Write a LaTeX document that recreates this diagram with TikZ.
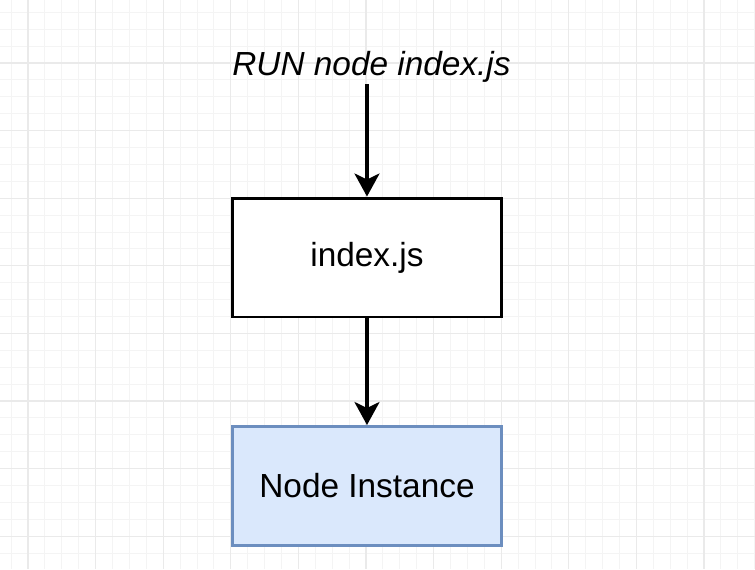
\documentclass[tikz,border=0pt]{standalone}
\usepackage{fontspec}
\setmainfont{Liberation Sans}
\usetikzlibrary{arrows.meta}

\definecolor{gridmajor}{HTML}{EAEAEA}
\definecolor{gridminor}{HTML}{F4F4F4}
\definecolor{instfill}{HTML}{DAE8FC}
\definecolor{instdraw}{HTML}{6C8EBF}

\tikzset{
  flowbox/.style={draw=black, line width=1.7pt, fill=white, minimum width=5.4cm,
    minimum height=2.38cm, inner sep=0pt, font=\fontsize{19}{23}\selectfont},
  instbox/.style={flowbox, draw=instdraw, fill=instfill},
  flowarrow/.style={line width=1.9pt, -{Stealth[length=0.46cm, width=0.5cm, inset=0.12cm]}}
}

\begin{document}
\begin{tikzpicture}[x=0.02cm, y=-0.02cm]
  % Parameters
  \def\W{755}
  \def\H{569}
  \def\gx{28}
  \def\gy{63}
  \def\g{16.9}

  % Background and frame
  \fill[white] (0,0) rectangle (\W,\H);
  \useasboundingbox (0,0) rectangle (\W,\H);

  % Grid (minor lines, then major lines)
  \foreach \j in {0,...,44} {
    \draw[gridminor, line width=0.5pt] ({\gx-\g+\g*\j},0) -- ({\gx-\g+\g*\j},\H);
  }
  \foreach \j in {0,...,33} {
    \draw[gridminor, line width=0.5pt] (0,{\gy-3*\g+\g*\j}) -- (\W,{\gy-3*\g+\g*\j});
  }
  \foreach \k in {0,...,10} {
    \draw[gridmajor, line width=0.6pt] ({\gx+4*\g*\k},0) -- ({\gx+4*\g*\k},\H);
  }
  \foreach \k in {-1,...,7} {
    \draw[gridmajor, line width=0.6pt] (0,{\gy+4*\g*\k}) -- (\W,{\gy+4*\g*\k});
  }

  % Command and boxes
  \node[anchor=base, inner sep=1pt, font=\fontsize{19}{23}\selectfont\itshape] (cmd) at (371.5,75) {RUN node index.js};
  \node[flowbox] (script) at (367,257.5) {index.js};
  \node[instbox] (instance) at (367,486) {Node Instance};

  % Arrows
  \draw[flowarrow] (cmd.south -| script.north) -- (script.north);
  \draw[flowarrow] (script) -- (instance);

\end{tikzpicture}
\end{document}
